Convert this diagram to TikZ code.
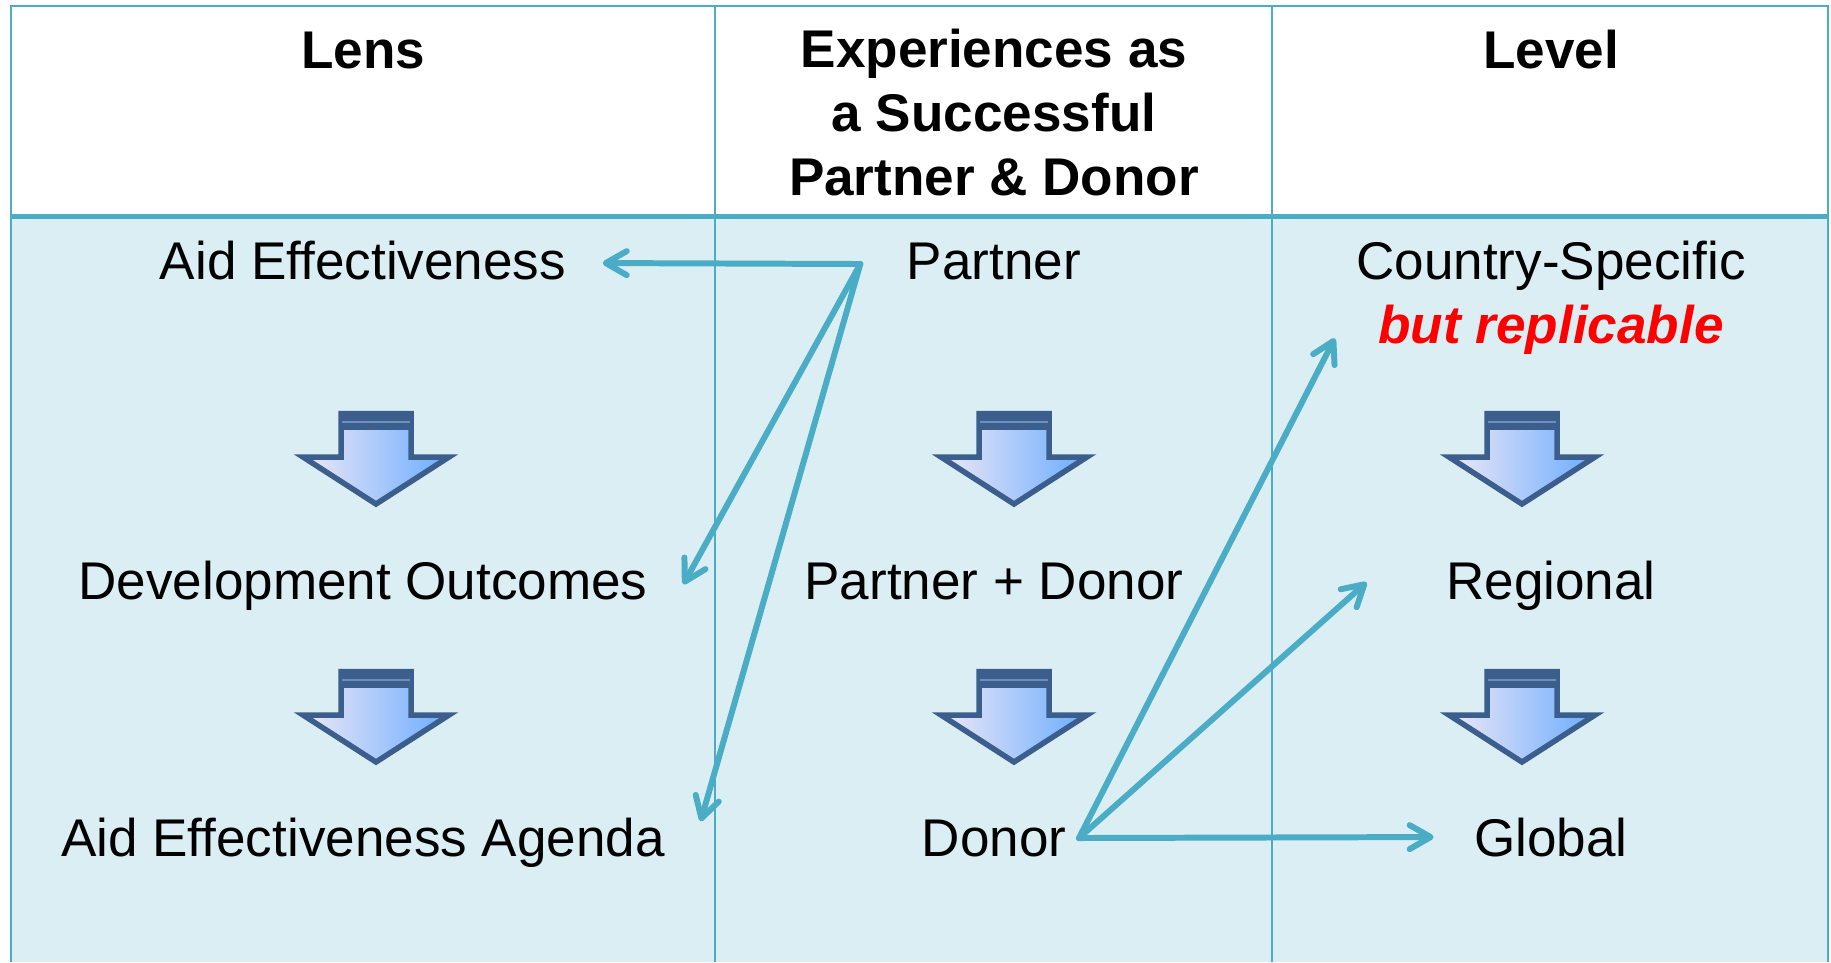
\documentclass[tikz,border=0pt]{standalone}
\usepackage{fontspec}
\setmainfont{Liberation Sans}
\usetikzlibrary{calc,arrows.meta}

\definecolor{gridteal}{HTML}{4BACC6}
\definecolor{bodyblue}{HTML}{DAEEF3}
\definecolor{arrline}{HTML}{3B5E8C}
\definecolor{arrband}{HTML}{6F8FBF}
\definecolor{arrlight}{HTML}{EEE8F6}
\definecolor{arrblue}{HTML}{6AACFF}

\begin{document}
\begin{tikzpicture}[x=0.1mm, y=-0.1mm,
    txt/.style={inner sep=0pt, anchor=base, font=\fontsize{15.1pt}{18.2pt}\selectfont},
    head/.style={txt, font=\fontsize{15.1pt}{18.2pt}\selectfont\bfseries, align=center},
    conn/.style={gridteal, line width=1.7pt, line cap=round, line join=round,
        -{Straight Barb[length=2.1mm, width=2.4mm, round]}}]
        \useasboundingbox (0,0) rectangle (1831,962);
        \fill[white] (0,0) rectangle (1831,962);
        \fill[bodyblue] (11,216) rectangle (1828,962);
        % table lines
        \draw[gridteal, line width=0.25mm] (11,962) -- (11,6) -- (1828,6) -- (1828,962);
        \foreach \cx in {715,1272} \draw[gridteal, line width=0.2mm] (\cx,6) -- (\cx,962);
        \draw[gridteal, line width=0.5mm] (11,216.5) -- (1828,216.5);
        % block arrows
        \foreach \cx in {376,1014,1522} \foreach \ty in {411,669} {
            \draw[arrline, line width=0.55mm, left color=arrlight, right color=arrblue, line join=miter]
                (\cx-35,\ty+2.5) -- (\cx+35,\ty+2.5) -- (\cx+35,\ty+46) -- (\cx+73,\ty+46)
                -- (\cx,\ty+93) -- (\cx-73,\ty+46) -- (\cx-35,\ty+46) -- cycle;
            \fill[arrline] (\cx-37.5,\ty) rectangle (\cx+37.5,\ty+19);
            \draw[arrband, line width=0.15mm] (\cx-34,\ty+11) -- (\cx+34,\ty+11);
        }
        \node[head] (lens) at (363,68) {Lens};
        \node[head] (exper) at (994,195) {Experiences as\\a Successful\\Partner \& Donor};
        \node[head] (level) at (1551,68) {Level};
        \node[txt] (aideff) at (363,279) {Aid Effectiveness};
        \node[txt] (devout) at (363,599) {Development Outcomes};
        \node[txt] (agenda) at (363,856) {Aid Effectiveness Agenda};
        \node[txt] (partner) at (994,279) {Partner};
        \node[txt] (partdonor) at (994,599) {Partner + Donor};
        \node[txt] (donor) at (994,856) {Donor};
        \node[txt] (country) at (1551,279) {Country-Specific};
        \node[txt, red, font=\fontsize{15.1pt}{18.2pt}\selectfont\bfseries\itshape] (replic) at (1551,343) {but replicable};
        \node[txt] (regional) at (1551,599) {Regional};
        \node[txt] (global) at (1551,856) {Global};
        % connector ends
        \coordinate (psrc) at ($(partner.west)+(-46,3)$);
        \coordinate (dsrc) at ($(donor.east)+(12,0)$);
        \coordinate (aideffin) at ($(aideff.east)+(36,3)$);
        \coordinate (devoutin) at ($(devout.east)+(35,-1)$);
        \coordinate (agendain) at ($(agenda.east)+(35,-21)$);
        \coordinate (replicin) at ($(replic.west)+(-43,9)$);
        \coordinate (regionalin) at ($(regional.west)+(-79,-3)$);
        \coordinate (globalin) at ($(global.west)+(-40,0)$);
        \draw[conn] (psrc) -- (aideffin);
        \draw[conn] (psrc) -- (devoutin);
        \draw[conn] (psrc) -- (agendain);
        \draw[conn] (dsrc) -- (replicin);
        \draw[conn] (dsrc) -- (regionalin);
        \draw[conn] (dsrc) -- (globalin);
    \end{tikzpicture}
\end{document}
